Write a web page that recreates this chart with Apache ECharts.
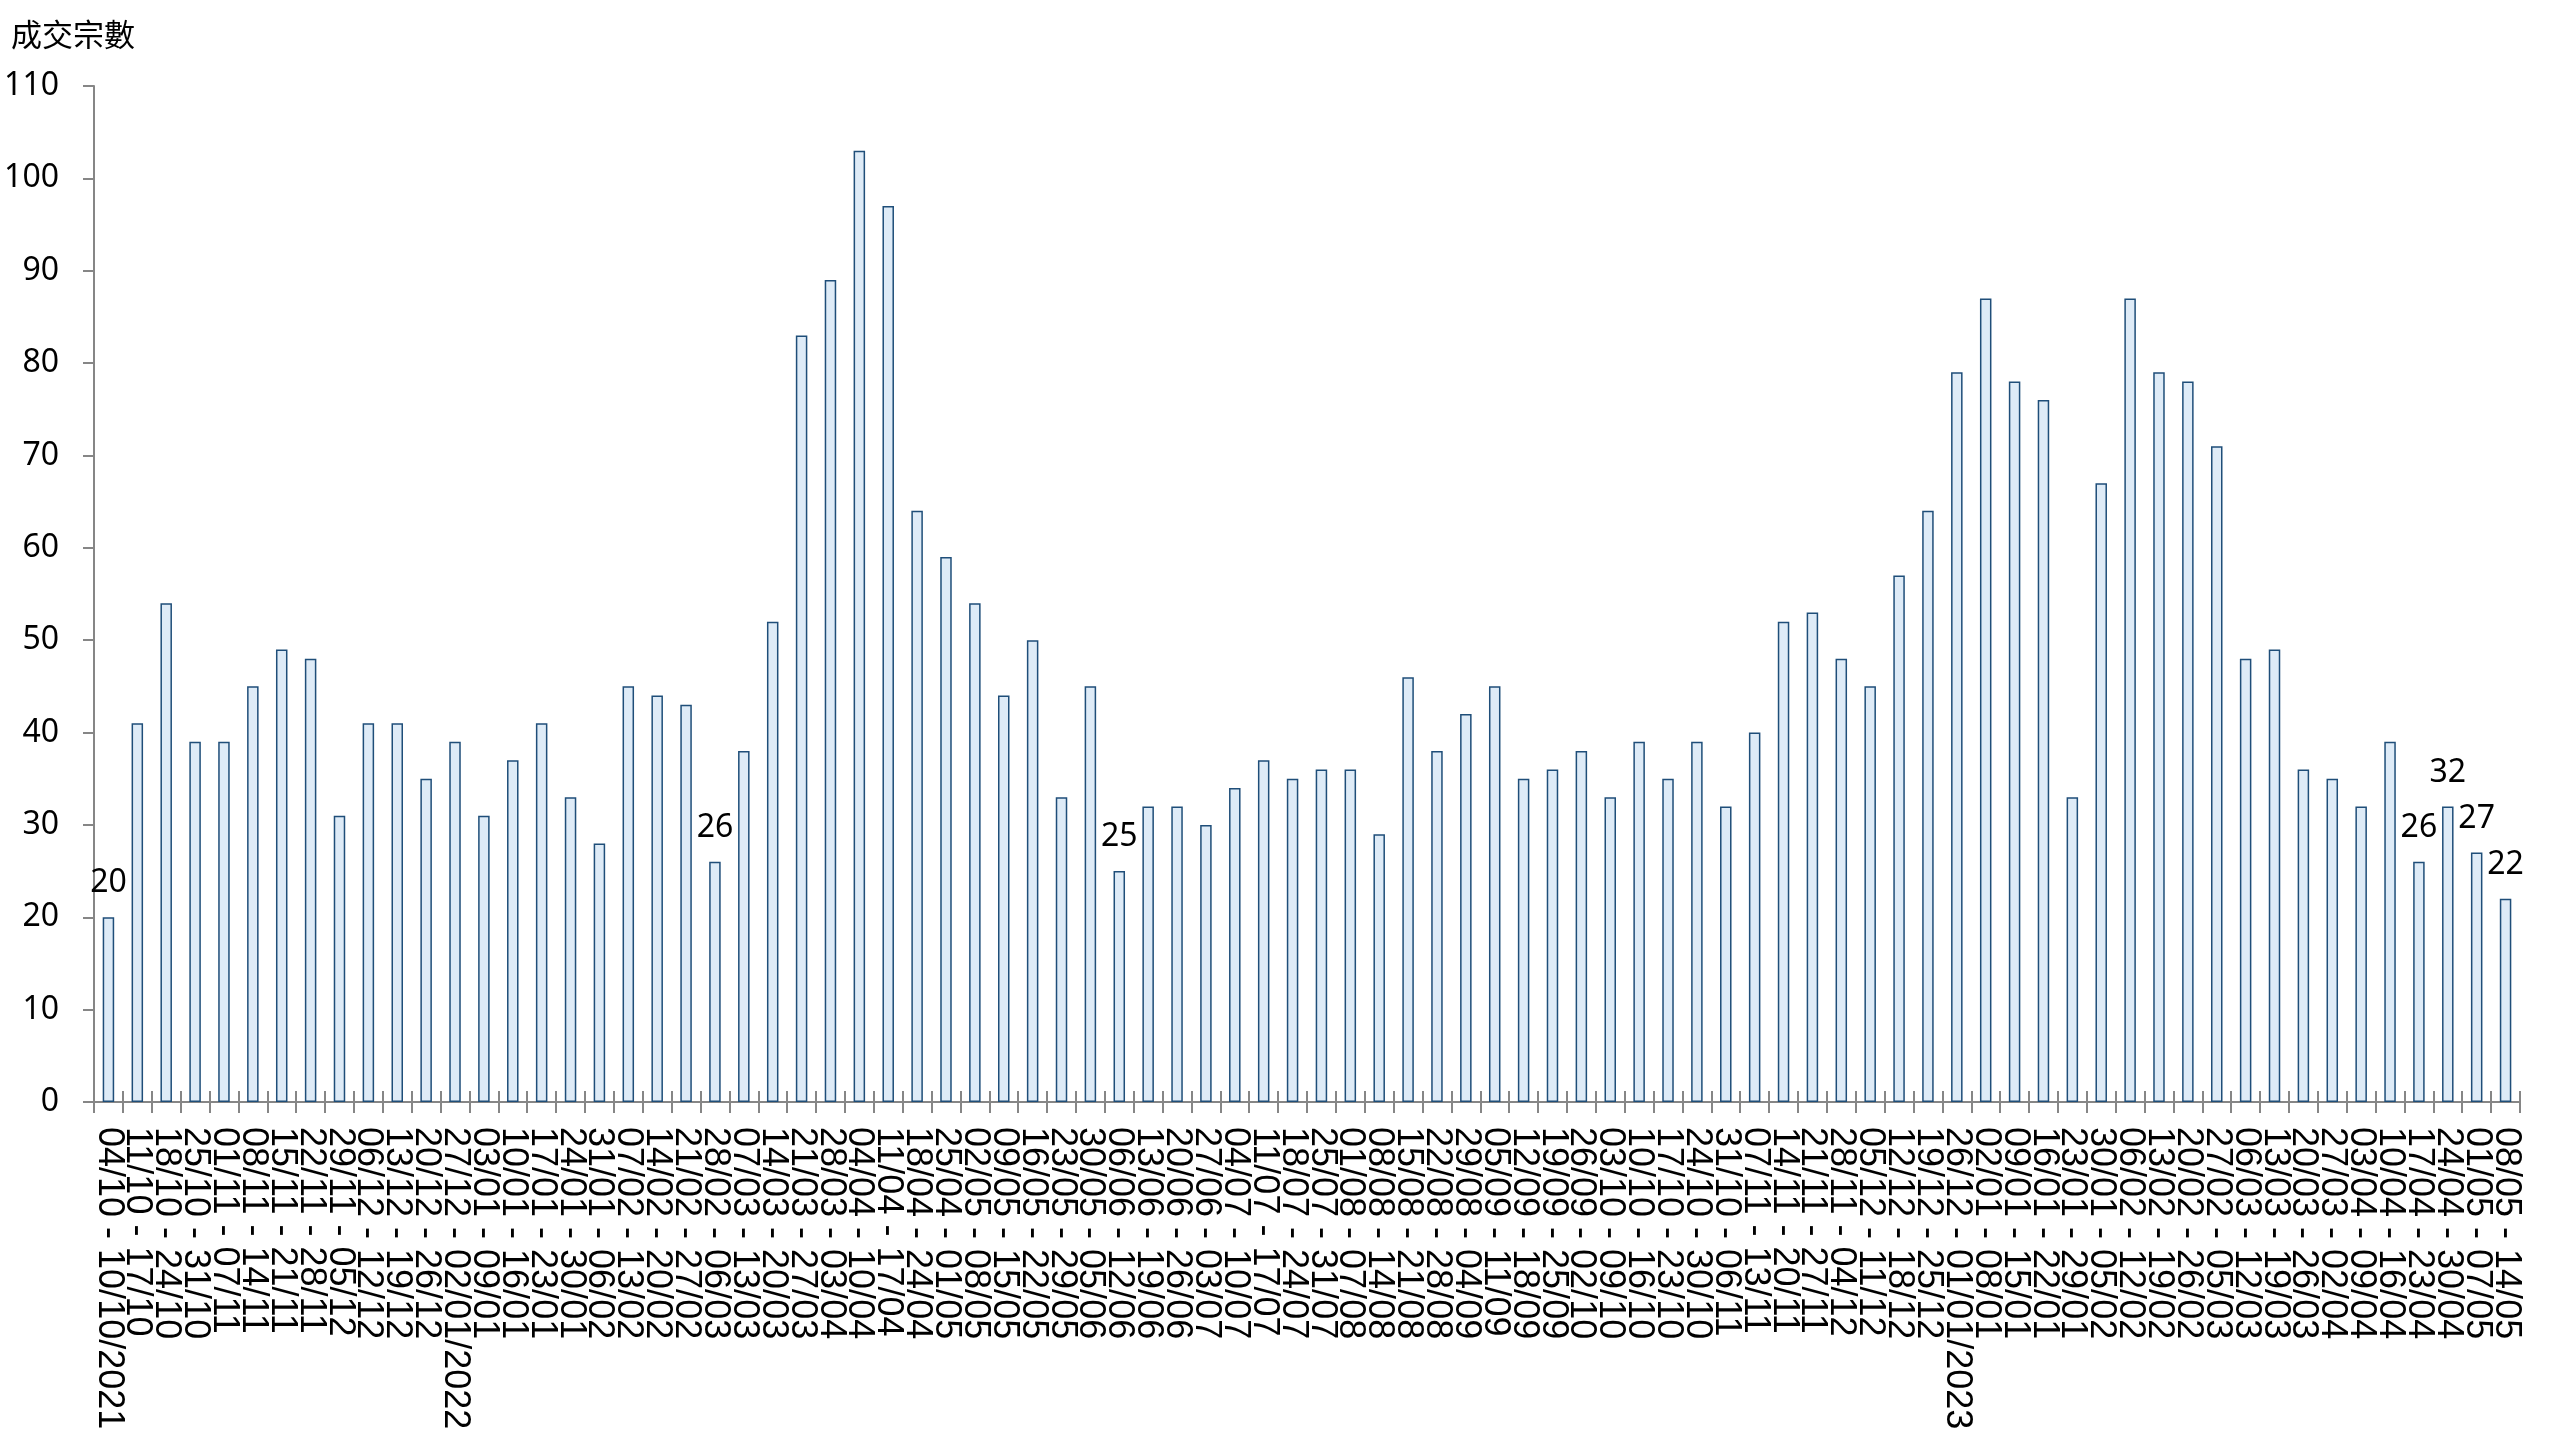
<!DOCTYPE html>
<html>
<head>
<meta charset="utf-8">
<script src="https://cdn.jsdelivr.net/npm/echarts@6/dist/echarts.min.js"></script>
<style>
  html, body { margin: 0; padding: 0; background: #fff; }
  #main { width: 2560px; height: 1440px; }
</style>
</head>
<body>
<div id="main"></div>
<script>
// 每週區間
var weeks = [
  '04/10 - 10/10/2021', '11/10 - 17/10', '18/10 - 24/10', '25/10 - 31/10',
  '01/11 - 07/11', '08/11 - 14/11', '15/11 - 21/11', '22/11 - 28/11',
  '29/11 - 05/12', '06/12 - 12/12', '13/12 - 19/12', '20/12 - 26/12',
  '27/12 - 02/01/2022', '03/01 - 09/01', '10/01 - 16/01', '17/01 - 23/01',
  '24/01 - 30/01', '31/01 - 06/02', '07/02 - 13/02', '14/02 - 20/02',
  '21/02 - 27/02', '28/02 - 06/03', '07/03 - 13/03', '14/03 - 20/03',
  '21/03 - 27/03', '28/03 - 03/04', '04/04 - 10/04', '11/04 - 17/04',
  '18/04 - 24/04', '25/04 - 01/05', '02/05 - 08/05', '09/05 - 15/05',
  '16/05 - 22/05', '23/05 - 29/05', '30/05 - 05/06', '06/06 - 12/06',
  '13/06 - 19/06', '20/06 - 26/06', '27/06 - 03/07', '04/07 - 10/07',
  '11/07 - 17/07', '18/07 - 24/07', '25/07 - 31/07', '01/08 - 07/08',
  '08/08 - 14/08', '15/08 - 21/08', '22/08 - 28/08', '29/08 - 04/09',
  '05/09 - 11/09', '12/09 - 18/09', '19/09 - 25/09', '26/09 - 02/10',
  '03/10 - 09/10', '10/10 - 16/10', '17/10 - 23/10', '24/10 - 30/10',
  '31/10 - 06/11', '07/11 - 13/11', '14/11 - 20/11', '21/11 - 27/11',
  '28/11 - 04/12', '05/12 - 11/12', '12/12 - 18/12', '19/12 - 25/12',
  '26/12 - 01/01/2023', '02/01 - 08/01', '09/01 - 15/01', '16/01 - 22/01',
  '23/01 - 29/01', '30/01 - 05/02', '06/02 - 12/02', '13/02 - 19/02',
  '20/02 - 26/02', '27/02 - 05/03', '06/03 - 12/03', '13/03 - 19/03',
  '20/03 - 26/03', '27/03 - 02/04', '03/04 - 09/04', '10/04 - 16/04',
  '17/04 - 23/04', '24/04 - 30/04', '01/05 - 07/05', '08/05 - 14/05'
];

// 成交宗數
var deals = [
  20, 41, 54, 39, 39, 45, 49, 48, 31, 41, 41, 35, 39,
  31, 37, 41, 33, 28, 45, 44, 43, 26, 38, 52, 83, 89, 103, 97,
  64, 59, 54, 44, 50, 33, 45, 25, 32, 32, 30, 34, 37, 35, 36,
  36, 29, 46, 38, 42, 45, 35, 36, 38, 33, 39, 35, 39, 32, 40,
  52, 53, 48, 45, 57, 64, 79,
  87, 78, 76, 33, 67, 87, 79, 78, 71, 48, 49, 36, 35, 32, 39,
  26, 32, 27, 22
];

// 需要顯示數值的柱
var labelIdx = [0, 21, 35, 80, 81, 82, 83];

var yTicks = { min: 0, max: 110, interval: 10 };

var chart = echarts.init(document.getElementById('main'));

var barData = deals.map(function (v, i) {
  return {
    value: v,
    label: { show: labelIdx.indexOf(i) !== -1 }
  };
});

var axisGray = '#868686';

var option = {
  animation: false,
  title: {
    text: '成交宗數',
    left: 6,
    top: 14,
    textStyle: {
      fontFamily: 'Noto Sans CJK TC',
      fontSize: 31,
      fontWeight: 'normal',
      color: '#000'
    }
  },
  grid: {
    left: 94,
    right: 40,
    top: 86,
    bottom: 338,
    containLabel: false
  },
  xAxis: [{
    type: 'category',
    data: weeks,
    axisLine: { lineStyle: { color: axisGray, width: 2 } },
    axisTick: { show: true, interval: 0, length: 11, lineStyle: { color: axisGray, width: 2 } },
    axisLabel: {
      interval: 0,
      rotate: -90,
      margin: 25,
      color: '#000',
      fontFamily: 'Liberation Sans',
      fontSize: 36
    }
  }, {
    type: 'category',
    data: weeks,
    position: 'bottom',
    axisLine: { show: false },
    axisTick: { show: true, interval: 0, inside: true, length: 11, lineStyle: { color: axisGray, width: 2 } },
    axisLabel: { show: false, interval: 0 }
  }],
  yAxis: {
    type: 'value',
    min: yTicks.min,
    max: yTicks.max,
    interval: yTicks.interval,
    axisLine: { show: true, lineStyle: { color: axisGray, width: 2 } },
    axisTick: { show: true, length: 11, lineStyle: { color: axisGray, width: 2 } },
    splitLine: { show: false },
    axisLabel: {
      margin: 35,
      color: '#000',
      fontFamily: 'Noto Sans',
      fontSize: 32
    }
  },
  series: [{
    name: '成交宗數',
    type: 'bar',
    xAxisIndex: 0,
    barWidth: 11.5,
    data: barData,
    itemStyle: {
      color: '#deebf7',
      borderColor: '#1f4e79',
      borderWidth: 1.5
    },
    label: {
      position: 'top',
      distance: 18,
      color: '#000',
      fontFamily: 'Noto Sans',
      fontSize: 32
    }
  }]
};

chart.setOption(option);
</script>
</body>
</html>
